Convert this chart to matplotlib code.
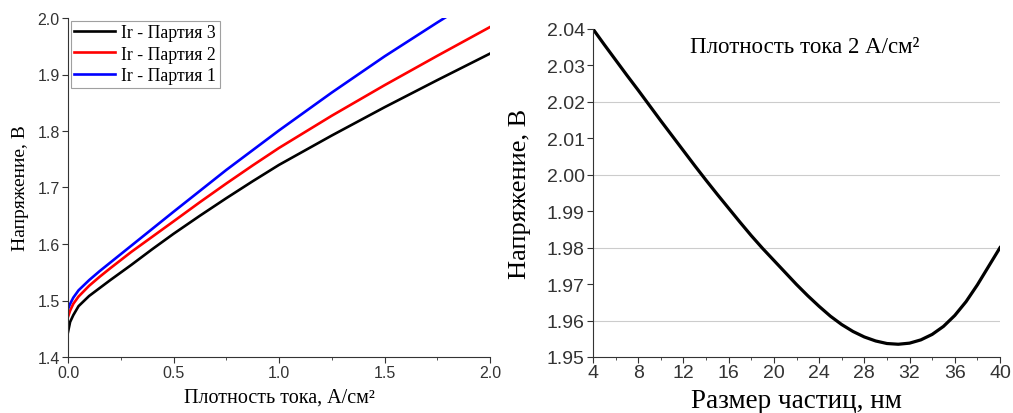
import matplotlib
matplotlib.use("Agg")
import matplotlib.pyplot as plt
from matplotlib.ticker import MultipleLocator

# Left panel: voltage vs current density for three batches
j_density = [0.0, 0.01, 0.025, 0.05, 0.1, 0.15, 0.2, 0.3, 0.4, 0.5, 0.625,
             0.75, 0.875, 1.0, 1.25, 1.5, 1.75, 2.0]
u_batch3 = [1.444, 1.462, 1.474, 1.490, 1.508, 1.522, 1.536, 1.563, 1.591, 1.618, 1.650,
            1.681, 1.711, 1.740, 1.792, 1.842, 1.890, 1.937]
u_batch2 = [1.471, 1.482, 1.494, 1.507, 1.526, 1.542, 1.557, 1.586, 1.613, 1.640, 1.674,
            1.707, 1.739, 1.770, 1.827, 1.881, 1.933, 1.984]
u_batch1 = [1.485, 1.494, 1.505, 1.518, 1.536, 1.552, 1.567, 1.597, 1.627, 1.657, 1.694,
            1.731, 1.766, 1.801, 1.868, 1.932, 1.992, 2.050]
series_labels = ["Ir - Партия 3", "Ir - Партия 2", "Ir - Партия 1"]
series_colors = ["black", "#ff0000", "#0000ff"]

# Right panel: voltage at 2 A/cm2 vs particle size
size_nm = list(range(4, 41))
u_size = [2.0400, 2.0357, 2.0315, 2.0273, 2.0232, 2.0190, 2.0148, 2.0107, 2.0066, 2.0025,
          1.9985, 1.9946, 1.9908, 1.9870, 1.9833, 1.9798, 1.9765, 1.9732, 1.9699, 1.9668,
          1.9639, 1.9612, 1.9589, 1.9570, 1.9555, 1.9544, 1.9537, 1.9535, 1.9538, 1.9547,
          1.9562, 1.9584, 1.9614, 1.9652, 1.9698, 1.9749, 1.9800]

serif = ["Liberation Serif", "DejaVu Serif"]
sans = ["Liberation Sans", "DejaVu Sans"]

fig = plt.figure(figsize=(10.13, 4.14), dpi=100)
ax1 = fig.add_axes([68 / 1013, 1 - 358 / 414, (490 - 68) / 1013, (358 - 19) / 414])
ax2 = fig.add_axes([593 / 1013, 1 - 358 / 414, (1000 - 593) / 1013, (358 - 30) / 414])

for ys, lab, col in zip([u_batch3, u_batch2, u_batch1], series_labels, series_colors):
    ax1.plot(j_density, ys, color=col, lw=1.9, label=lab)

ax1.set_xlim(0, 2.0)
ax1.set_ylim(1.4, 2.0)
ax1.xaxis.set_major_locator(MultipleLocator(0.5))
ax1.xaxis.set_minor_locator(MultipleLocator(0.25))
ax1.yaxis.set_major_locator(MultipleLocator(0.1))
ax1.set_xlabel("Плотность тока, А/см²", family=serif, fontsize=14.5, labelpad=5)
ax1.set_ylabel("Напряжение, В", family=serif, fontsize=14, labelpad=6)
leg = ax1.legend(loc="upper left", prop={"family": serif, "size": 12.8}, frameon=True,
                 fancybox=False, edgecolor="#888888", borderaxespad=0.15,
                 handlelength=2.3, handletextpad=0.35, labelspacing=0.25, borderpad=0.2)
leg.get_frame().set_linewidth(0.8)

ax2.plot(size_nm, u_size, color="black", lw=2.3)
ax2.set_xlim(4, 40)
ax2.set_ylim(1.95, 2.04)
ax2.xaxis.set_major_locator(MultipleLocator(4))
ax2.xaxis.set_minor_locator(MultipleLocator(2))
ax2.yaxis.set_major_locator(MultipleLocator(0.01))
for g in [1.96, 1.98, 2.00, 2.02]:
    ax2.axhline(g, color="#cccccc", lw=0.8, zorder=0)
ax2.set_xlabel("Размер частиц, нм", family=serif, fontsize=19.5, labelpad=5)
ax2.set_ylabel("Напряжение, В", family=serif, fontsize=19, labelpad=11)
ax2.text(0.52, 0.948, "Плотность тока 2 А/см²", transform=ax2.transAxes,
         family=serif, fontsize=16.5, ha="center", va="center")

for ax, fs in [(ax1, 11.5), (ax2, 14)]:
    ax.spines["top"].set_visible(False)
    ax.spines["right"].set_visible(False)
    ax.spines["left"].set_color("#333333")
    ax.spines["bottom"].set_color("#333333")
    ax.tick_params(which="both", direction="out", colors="#333333")
    ax.tick_params(which="major", length=4, labelsize=fs, pad=2)
    ax.tick_params(which="minor", length=2.5)
    for t in ax.get_xticklabels() + ax.get_yticklabels():
        t.set_family(sans)

ax2.tick_params(axis="x", pad=1)

fig.savefig("out.png", dpi=100)
